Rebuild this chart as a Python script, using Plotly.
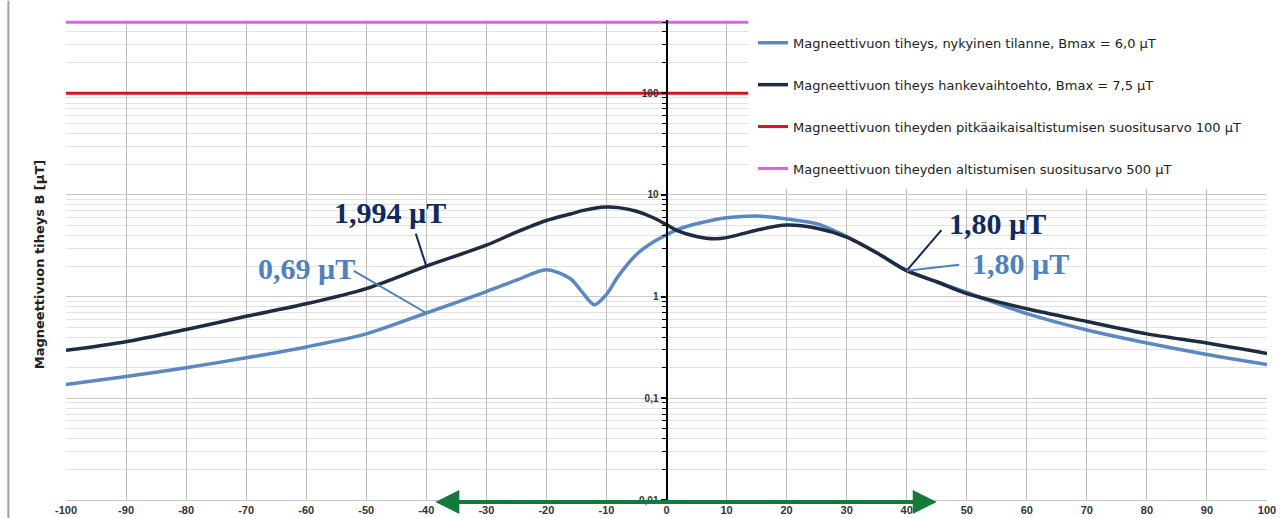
import plotly.graph_objects as go
import math

# Distance from the line centre (m)
distance = [-100, -90, -80, -70, -60, -50, -40, -30, -25, -20, -16, -14, -12, -10,
            -8, -5, -2, 0, 2, 5, 8, 10, 15, 20, 25, 30, 35, 40, 45, 50,
            60, 70, 80, 90, 100]

# Magnetic flux density, present situation (µT)
b_current = [0.137, 0.164, 0.20, 0.25, 0.32, 0.43, 0.69, 1.12, 1.45, 1.84, 1.5, 1.1, 0.83, 1.05,
             1.6, 2.6, 3.5, 4.05, 4.6, 5.2, 5.7, 5.95, 6.2, 5.8, 5.2, 3.9, 2.7, 1.80, 1.4, 1.1,
             0.68, 0.47, 0.35, 0.27, 0.215]

# Magnetic flux density, project alternative (µT)
b_project = [0.296, 0.36, 0.475, 0.64, 0.85, 1.2, 1.994, 3.2, 4.3, 5.6, 6.5, 7.0, 7.4, 7.6,
             7.5, 6.9, 5.9, 5.1, 4.4, 3.9, 3.7, 3.8, 4.5, 5.05, 4.7, 3.85, 2.7, 1.80, 1.4, 1.07,
             0.76, 0.57, 0.43, 0.35, 0.276]

# Recommended limit values (µT)
limit_long_term = 100
limit_exposure = 500

y_tickvals = [0.01, 0.1, 1, 10, 100]
y_ticktext = ["0,01", "0,1", "1", "10", "100"]
x_ticks = list(range(-100, 101, 10))

names = [
    "Magneettivuon tiheys, nykyinen tilanne, Bmax = 6,0 µT",
    "Magneettivuon tiheys hankevaihtoehto, Bmax = 7,5 µT",
    "Magneettivuon tiheyden pitkäaikaisaltistumisen suositusarvo 100 µT",
    "Magneettivuon tiheyden altistumisen suositusarvo 500 µT",
]

C_LIGHT = "#5b87c2"
C_DARK = "#1e2b40"
C_RED = "#d0161e"
C_MAGENTA = "#e45ee4"
C_LABEL_DARK = "#0f2a5e"
C_LABEL_LIGHT = "#4f81bd"

fig = go.Figure()
fig.add_trace(go.Scatter(x=distance, y=b_current, mode="lines", name=names[0],
                         line=dict(color=C_LIGHT, width=3.5, shape="spline", smoothing=0.8),
                         legendgroup="a"))
fig.add_trace(go.Scatter(x=distance, y=b_project, mode="lines", name=names[1],
                         line=dict(color=C_DARK, width=3.5, shape="spline", smoothing=0.8),
                         legendgroup="b"))
fig.add_trace(go.Scatter(x=[-100, 100], y=[limit_long_term] * 2, mode="lines", name=names[2],
                         line=dict(color=C_RED, width=3), legendgroup="c"))
fig.add_trace(go.Scatter(x=[-100, 100], y=[limit_exposure] * 2, mode="lines", name=names[3],
                         line=dict(color=C_MAGENTA, width=3), legendgroup="d"))

minor_vals = [m * 10 ** e for e in range(-2, 3) for m in range(2, 10)]

fig.update_layout(
    width=1280, height=518,
    margin=dict(l=66, r=13, t=20, b=18, autoexpand=False),
    paper_bgcolor="white", plot_bgcolor="white",
    font=dict(family="Liberation Sans, Arial", color="#222222"),
    showlegend=True,
    legend=dict(x=0.572, y=1.0, xanchor="left", yanchor="top",
                bgcolor="white", borderwidth=0,
                title=dict(text=" ", font=dict(size=6)),
                font=dict(family="DejaVu Sans", size=13, color="#222222"),
                traceorder="grouped", tracegroupgap=22, itemwidth=30),
    xaxis=dict(range=[-100, 100], tickvals=x_ticks, ticktext=[str(v) for v in x_ticks],
               automargin=False,
               showgrid=True, gridcolor="#bdbdbd", gridwidth=1,
               showline=True, linecolor="#c4c4c4", linewidth=1,
               zeroline=False, ticks="",
               tickfont=dict(size=11, color="#333333", weight="bold")),
    yaxis=dict(type="log", range=[-2, 2.72], anchor="free", position=0.5,
               automargin=False,
               tickvals=y_tickvals, ticktext=y_ticktext,
               showgrid=True, gridcolor="#c8c8c8", gridwidth=1,
               showline=True, linecolor="black", linewidth=2,
               ticks="outside", ticklen=5, tickcolor="black", tickwidth=2,
               zeroline=False,
               tickfont=dict(size=10, color="#333333", weight="bold"),
               minor=dict(tickvals=minor_vals, showgrid=True, gridcolor="#e2e2e2",
                          ticks="outside", ticklen=4, tickcolor="black", tickwidth=1)),
)

# White backing panel behind the legend entries
fig.add_shape(type="rect", xref="paper", yref="paper", x0=0.568, x1=1.006, y0=0.648, y1=1.01,
              fillcolor="white", line=dict(width=0), layer="above")

# Y axis title placed at the left edge of the chart
fig.add_annotation(text="Magneettivuon tiheys B [µT]", xref="paper", yref="paper",
                   x=-0.03, y=0.49, textangle=-90, showarrow=False,
                   font=dict(family="DejaVu Sans", size=13, color="#222222", weight="bold"))

# Value labels with leader lines
lab_font = "Liberation Serif, Times New Roman"

def leader(x, y, ax, ay, color):
    fig.add_annotation(x=x, y=math.log10(y), xref="x", yref="y", text="",
                       showarrow=True, arrowhead=0, arrowwidth=2, arrowcolor=color,
                       ax=ax, ay=ay, standoff=0, startstandoff=0)

def label(text, x, logy, color):
    fig.add_annotation(x=x, y=logy, xref="x", yref="y", text=f"<b>{text}</b>",
                       showarrow=False, font=dict(family=lab_font, size=30, color=color))

leader(-40, b_project[distance.index(-40)], -11, -34, C_LABEL_DARK)
label("1,994 µT", -46, 0.824, C_LABEL_DARK)
leader(-40, b_current[distance.index(-40)], -74, -43, C_LABEL_LIGHT)
label("0,69 µT", -60, 0.275, C_LABEL_LIGHT)
leader(40, b_project[distance.index(40)], 36, -42, C_LABEL_DARK)
label("1,80 µT", 55.2, 0.716, C_LABEL_DARK)
leader(40, b_current[distance.index(40)], 54, -6, C_LABEL_LIGHT)
label("1,80 µT", 59, 0.324, C_LABEL_LIGHT)

# Double-headed green arrow along the bottom edge
span_left, span_right = -38.5, 45
mid = (span_left + span_right) / 2
for head, tail in ((span_left, mid + 3), (span_right, mid - 3)):
    fig.add_annotation(x=head, y=-0.004, xref="x", yref="paper", text="",
                       showarrow=True, arrowhead=2, arrowsize=1.2, arrowwidth=4,
                       arrowcolor="#137a3a", axref="x", ax=tail, ay=0, standoff=0)

# Frame line at the left edge
fig.add_shape(type="line", xref="paper", yref="paper", x0=-0.048, x1=-0.048, y0=-0.04, y1=1.04,
              line=dict(color="#a0a0a0", width=2))

fig.write_html("out.html")
